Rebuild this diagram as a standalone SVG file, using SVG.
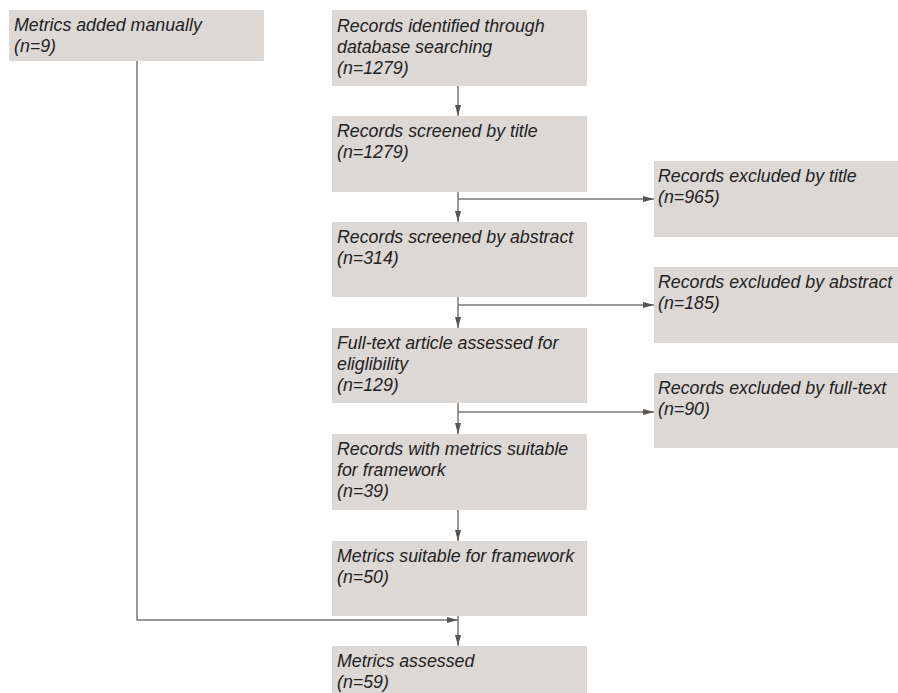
<svg xmlns="http://www.w3.org/2000/svg" width="898" height="693" viewBox="0 0 898 693">
<style>
.box{fill:#dcd8d6;}
.t{font-family:"Liberation Sans",Arial,sans-serif;font-style:italic;font-size:17.8px;fill:#222;}
.c{stroke:#7d7775;stroke-width:1.5;fill:none;}
</style>
<defs>
<marker id="ah" markerUnits="userSpaceOnUse" markerWidth="12" markerHeight="8" refX="11" refY="4" orient="auto">
<path d="M0,1 L11,4 L0,7 Z" fill="#585452"/>
</marker>
</defs>
<rect width="898" height="693" fill="#fff"/>
<g id="manual"><rect class="box" x="9" y="10" width="255" height="51"/>
<text class="t" x="14" y="31">Metrics added manually</text><text class="t" x="14" y="52">(n=9)</text></g>
<g id="identified"><rect class="box" x="332" y="10" width="255" height="76"/>
<text class="t" x="337" y="32">Records identified through</text><text class="t" x="337" y="53">database searching</text><text class="t" x="337" y="74">(n=1279)</text></g>
<g id="title"><rect class="box" x="332" y="116" width="255" height="76"/>
<text class="t" x="337" y="137">Records screened by title</text><text class="t" x="337" y="158">(n=1279)</text></g>
<g id="abstract"><rect class="box" x="332" y="222" width="255" height="75"/>
<text class="t" x="337" y="243">Records screened by abstract</text><text class="t" x="337" y="264">(n=314)</text></g>
<g id="fulltext"><rect class="box" x="332" y="328" width="255" height="75"/>
<text class="t" x="337" y="349">Full-text article assessed for</text><text class="t" x="337" y="370">eliglibility</text><text class="t" x="337" y="391">(n=129)</text></g>
<g id="suitable"><rect class="box" x="332" y="434" width="255" height="76"/>
<text class="t" x="337" y="455">Records with metrics suitable</text><text class="t" x="337" y="476">for framework</text><text class="t" x="337" y="497">(n=39)</text></g>
<g id="metrics50"><rect class="box" x="332" y="541" width="255" height="75"/>
<text class="t" x="337" y="562">Metrics suitable for framework</text><text class="t" x="337" y="583">(n=50)</text></g>
<g id="assessed"><rect class="box" x="332" y="646" width="255" height="76"/>
<text class="t" x="337" y="667">Metrics assessed</text><text class="t" x="337" y="688">(n=59)</text></g>
<g id="excl-title"><rect class="box" x="654" y="161" width="244" height="76"/>
<text class="t" x="658" y="182">Records excluded by title</text><text class="t" x="658" y="203">(n=965)</text></g>
<g id="excl-abstract"><rect class="box" x="654" y="267" width="244" height="76"/>
<text class="t" x="658" y="288">Records excluded by abstract</text><text class="t" x="658" y="309">(n=185)</text></g>
<g id="excl-full"><rect class="box" x="654" y="373" width="244" height="75"/>
<text class="t" x="658" y="394">Records excluded by full-text</text><text class="t" x="658" y="415">(n=90)</text></g>
<g id="connectors">
<line class="c" x1="458" y1="86" x2="458" y2="116" marker-end="url(#ah)"/>
<line class="c" x1="458" y1="192" x2="458" y2="222" marker-end="url(#ah)"/>
<line class="c" x1="458" y1="199" x2="654" y2="199" marker-end="url(#ah)"/>
<line class="c" x1="458" y1="297" x2="458" y2="328" marker-end="url(#ah)"/>
<line class="c" x1="458" y1="305" x2="654" y2="305" marker-end="url(#ah)"/>
<line class="c" x1="458" y1="403" x2="458" y2="434" marker-end="url(#ah)"/>
<line class="c" x1="458" y1="412" x2="654" y2="412" marker-end="url(#ah)"/>
<line class="c" x1="458" y1="510" x2="458" y2="541" marker-end="url(#ah)"/>
<line class="c" x1="458" y1="616" x2="458" y2="646" marker-end="url(#ah)"/>
<polyline class="c" points="137,61 137,620 458,620" marker-end="url(#ah)"/>
</g>
</svg>
